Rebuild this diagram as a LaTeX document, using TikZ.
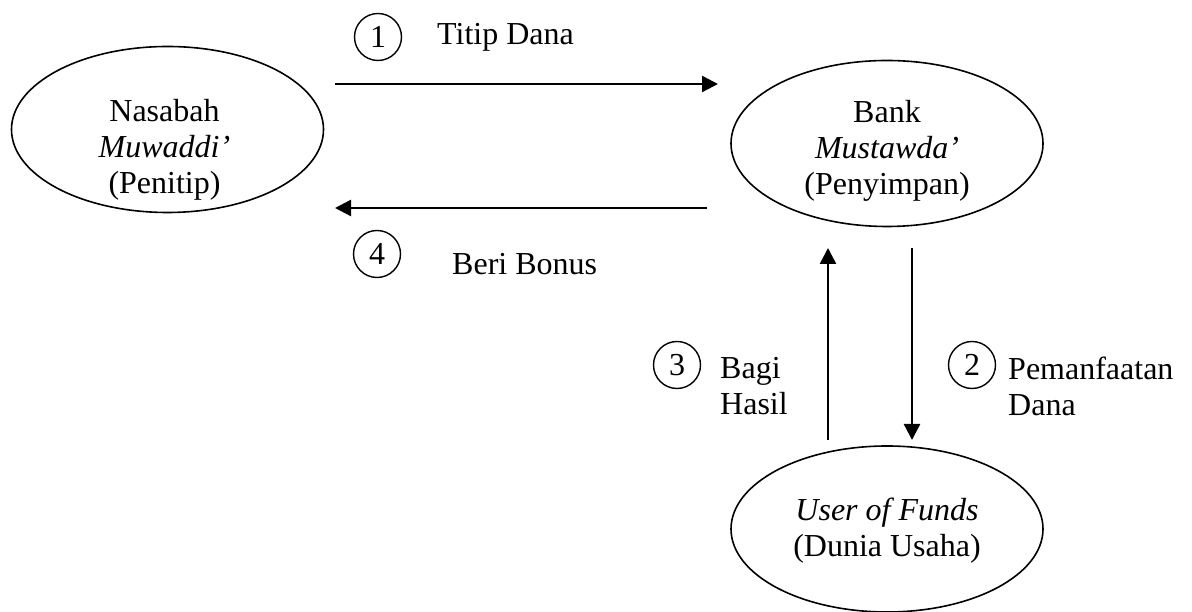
\documentclass[tikz,border=0pt]{standalone}
\usepackage{fontspec}
\setmainfont{Liberation Serif}
\usetikzlibrary{shapes.geometric,arrows.meta,positioning,calc}

\begin{document}
\begin{tikzpicture}[
  x=1pt, y=1pt,
  font=\fontsize{32}{36}\selectfont,
  party/.style = {draw, ellipse, line width=1.6pt,
                  minimum width=312pt, minimum height=166pt, inner sep=0pt},
  txt/.style   = {align=center, inner sep=0pt},
  lbl/.style   = {align=left, inner sep=0pt},
  num/.style   = {draw, circle, line width=1.4pt, minimum size=47pt, inner sep=0pt},
  ar/.style    = {-{Triangle[length=16pt,width=16pt]}, line width=2.4pt},
]
\useasboundingbox (0,0) rectangle (1192,612);

%% --- the three parties ---
\node[party] (nasabah) at (167.5,482.5) {};
\node[txt] (nasabahtxt) at ($(nasabah)+(-3,-20)$)
  {Nasabah\\\textit{Muwaddi’}\\(Penitip)};
\node[party] (bank) at (887,468.5) {};
\node[txt] (banktxt) at ($(bank)+(0,-7)$)
  {Bank\\\textit{Mustawda’}\\(Penyimpan)};
\node[party] (user) at (887,83) {};
\node[txt] (usertxt) at ($(user)+(0,-2)$)
  {\textit{User of Funds}\\(Dunia Usaha)};

%% --- arrow ends ---
\coordinate (titipA) at (335,528);
\coordinate (titipB) at (718,528);
\coordinate (bonusA) at (707,404);
\coordinate (bonusB) at (335,404);
\coordinate (hasilA) at (828,172);
\coordinate (hasilB) at (828,364);
\coordinate (danaA)  at (912,364);
\coordinate (danaB)  at (912,172);

%% --- numbered steps ---
\node[num] (n1) at (378,575) {1};
\node[lbl, anchor=base west] (titip) at (437,567) {Titip Dana};
\node[num] (n4) at (377,358) {4};
\node[lbl, anchor=base west] (bonus) at (452,337) {Beri Bonus};
\node[num] (n3) at (677,247) {3};
\node[lbl, anchor=west] (hasil) at (720,226) {Bagi\\Hasil};
\node[num] (n2) at (972,247) {2};
\node[lbl, anchor=west] (manfaat) at (1008,226) {Pemanfaatan\\Dana};

%% --- arrows ---
\draw[ar] (titipA) -- (titipB);
\draw[ar] (bonusA) -- (bonusB);
\draw[ar] (hasilA) -- (hasilB);
\draw[ar] (danaA)  -- (danaB);
\end{tikzpicture}
\end{document}
